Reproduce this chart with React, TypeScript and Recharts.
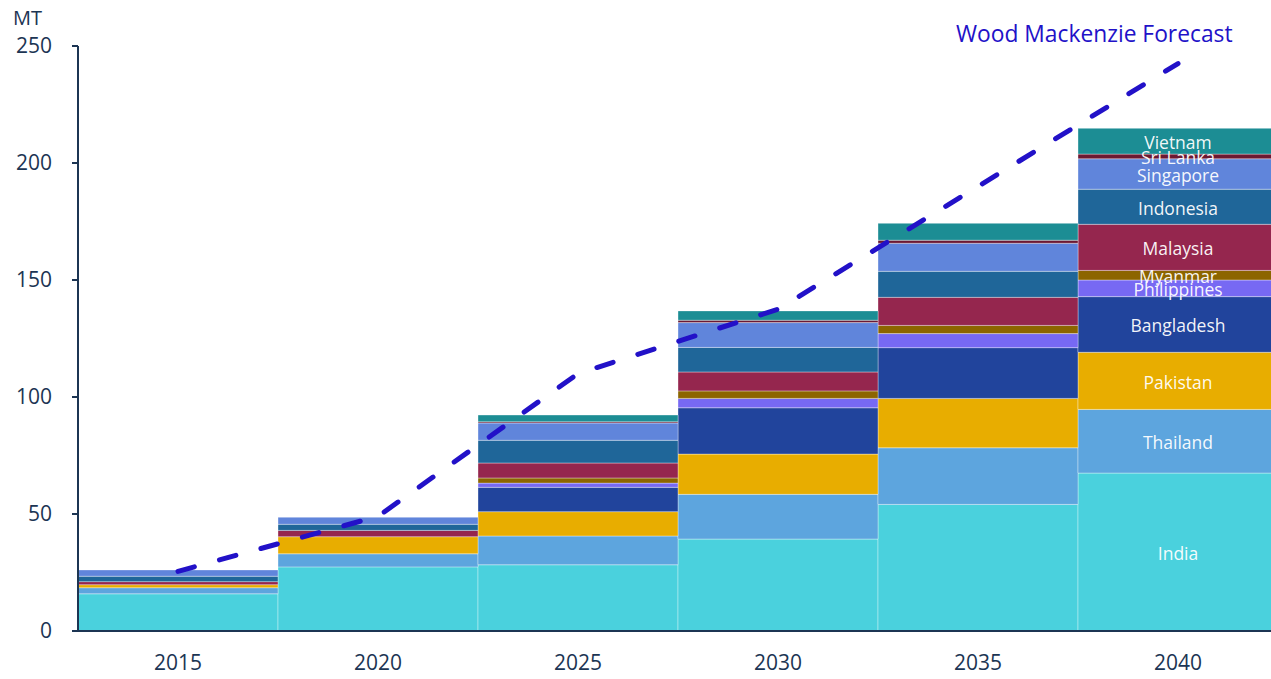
import React from 'react';
import { ComposedChart, Bar, Line, XAxis, YAxis, LabelList } from 'recharts';

const years = ['2015', '2020', '2025', '2030', '2035', '2040'];

// MT per country, bottom of the stack first
const india = [15.9, 27.4, 28.3, 39.3, 54.1, 67.5];
const thailand = [2.6, 5.6, 12.3, 19.1, 24.2, 27.2];
const pakistan = [1.3, 7.3, 10.4, 17.2, 21.1, 24.4];
const bangladesh = [0, 0, 10.4, 19.8, 21.7, 23.8];
const philippines = [0, 0, 1.8, 4.0, 6.0, 7.1];
const myanmar = [0, 0, 2.2, 3.2, 3.5, 4.1];
const malaysia = [1.3, 2.7, 6.4, 8.1, 12.0, 19.7];
const indonesia = [2.3, 2.6, 9.7, 10.5, 11.1, 15.0];
const singapore = [2.7, 3.0, 7.4, 10.6, 12.0, 13.0];
const sriLanka = [0, 0, 0.5, 1.0, 1.3, 2.0];
const vietnam = [0, 0, 2.9, 4.0, 7.2, 11.0];

const forecast = [25.5, 49, 110, 137.5, 190, 242.5];
const yTicks = [0, 50, 100, 150, 200, 250];

const countries = [
  { key: 'India', values: india, color: '#4AD1DD' },
  { key: 'Thailand', values: thailand, color: '#5DA5DE' },
  { key: 'Pakistan', values: pakistan, color: '#E8AD00' },
  { key: 'Bangladesh', values: bangladesh, color: '#21449C' },
  { key: 'Philippines', values: philippines, color: '#7769F3' },
  { key: 'Myanmar', values: myanmar, color: '#8C6500' },
  { key: 'Malaysia', values: malaysia, color: '#95264E' },
  { key: 'Indonesia', values: indonesia, color: '#1F6699' },
  { key: 'Singapore', values: singapore, color: '#6085DB' },
  { key: 'Sri Lanka', values: sriLanka, color: '#6C1832' },
  { key: 'Vietnam', values: vietnam, color: '#1C8D94' },
];

// names are only written on the last (2040) column
const data = years.map((year, i) => {
  const row: Record<string, string | number> = { year, forecast: forecast[i] };
  countries.forEach(c => {
    row[c.key] = c.values[i];
    row[c.key + '_label'] = i === years.length - 1 ? c.key : '';
  });
  return row;
});

const FONT = '"Open Sans", "Noto Sans", sans-serif';
const NAVY = '#1C3553';
const LINE_BLUE = '#2211C8';

const segmentLabel = (props: any) => {
  const { x, y, width, height, value } = props;
  if (!value) return null;
  return (
    <text
      x={Number(x) + Number(width) / 2}
      y={Number(y) + Number(height) / 2 + 1}
      fill="#ffffff"
      fillOpacity={0.95}
      fontSize={17.5}
      fontFamily={FONT}
      textAnchor="middle"
      dominantBaseline="central"
    >
      {value}
    </text>
  );
};

const App: React.FC = () => {
  return (
    <div
      style={{
        position: 'fixed',
        left: 0,
        top: 0,
        width: 1271,
        height: 679,
        overflow: 'hidden',
        background: '#fff',
        fontFamily: FONT,
      }}
    >
      <div style={{ position: 'absolute', left: 13, top: 4, fontSize: 20, color: NAVY }}>MT</div>
      <div style={{ position: 'absolute', left: 956, top: 18, fontSize: 22.8, color: LINE_BLUE }}>
        Wood Mackenzie Forecast
      </div>
      <ComposedChart
        width={1290}
        height={679}
        data={data}
        margin={{ top: 46, right: 12, bottom: 0, left: 0 }}
        barCategoryGap={0}
        barGap={0}
      >
        <XAxis
          dataKey="year"
          height={48}
          tickSize={0}
          tickMargin={24}
          axisLine={{ stroke: NAVY, strokeWidth: 2 }}
          tick={{ fill: NAVY, fontSize: 21, fontFamily: FONT }}
        />
        <YAxis
          width={78}
          domain={[0, 250]}
          ticks={yTicks}
          interval={0}
          tickSize={6}
          tickMargin={20}
          axisLine={{ stroke: NAVY, strokeWidth: 2 }}
          tickLine={{ stroke: NAVY, strokeWidth: 2 }}
          tick={{ fill: NAVY, fontSize: 21, fontFamily: FONT }}
        />
        {countries.map(c => (
          <Bar
            key={c.key}
            dataKey={c.key}
            stackId="mt"
            fill={c.color}
            stroke="#ffffff"
            strokeOpacity={0.35}
            strokeWidth={1}
            isAnimationActive={false}
          >
            <LabelList dataKey={c.key + '_label'} content={segmentLabel} />
          </Bar>
        ))}
        <Line
          dataKey="forecast"
          type="linear"
          stroke={LINE_BLUE}
          strokeWidth={5}
          strokeDasharray="17 26"
          strokeLinecap="round"
          dot={false}
          activeDot={false}
          isAnimationActive={false}
        />
      </ComposedChart>
    </div>
  );
};

export default App;
